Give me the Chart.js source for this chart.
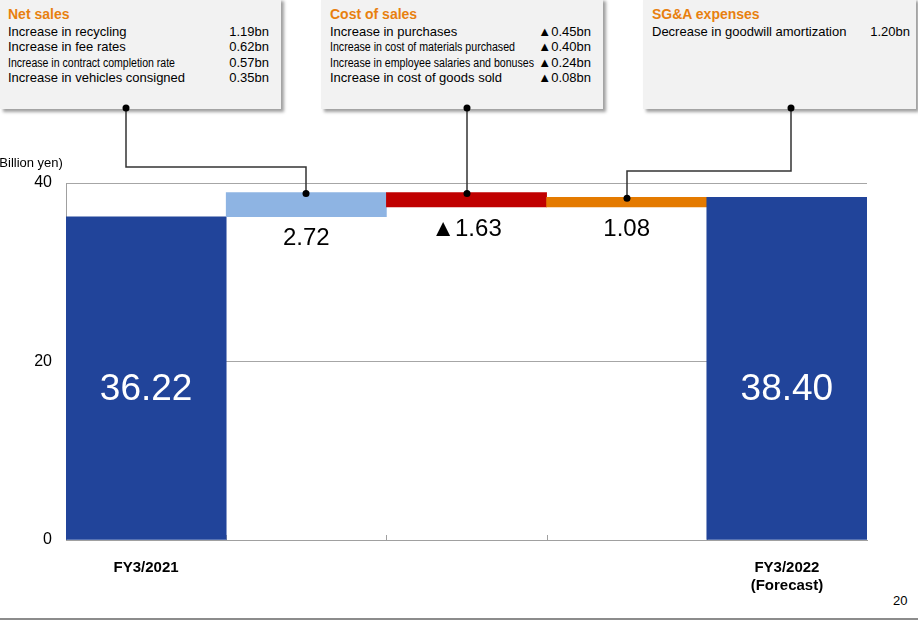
<!DOCTYPE html>
<html>
<head>
<meta charset="utf-8">
<script src="https://cdn.jsdelivr.net/npm/chart.js@4/dist/chart.umd.min.js"></script>
<style>
  html, body { margin:0; padding:0; background:#fff; }
  body { width:918px; height:621px; position:relative; overflow:hidden; font-family:"Liberation Sans", Arial, sans-serif; }
  #wrap { position:absolute; left:0; top:0; width:918px; height:621px; z-index:2; }
  #boxes { position:absolute; left:0; top:0; z-index:1; }
  .box { position:absolute; top:-2px; height:111px; background:#f2f2f2; box-shadow:3px 3px 3px #a0a0a0; }
  .ttl { position:absolute; top:8px; font-size:14px; font-weight:bold; color:#E8800F; line-height:16px; white-space:nowrap; }
  .row { position:absolute; font-size:13px; line-height:15.5px; color:#000; white-space:nowrap; }
  .val { position:absolute; font-size:13px; line-height:15.5px; color:#000; white-space:nowrap; text-align:right; }
  .cond { display:inline-block; font-size:12.5px; transform-origin:0 50%; }
  #pg { position:absolute; left:893px; top:593px; font-size:13px; color:#000; }
  #bl { position:absolute; left:0; top:618px; width:918px; height:2px; background:#8c8c8c; }
</style>
</head>
<body>
<div id="boxes"></div>
<div id="wrap"><canvas id="c" width="918" height="621"></canvas></div>
<div id="pg">20</div>
<div id="bl"></div>
<script>
// ---- data ----
const categories = [['FY3/2021'], '', '', '', ['FY3/2022', '(Forecast)']];
const startValue = 36.22;
const deltaValues = [2.72, -1.63, 1.08];
const endValue = 38.40;
const barLabels = ['36.22', '2.72', '▲1.63', '1.08', '38.40'];
const barColors = ['#21449A', '#8EB4E3', '#C00000', '#E47A00', '#21449A'];
const yTicks = [0, 20, 40];

const netSalesItems = ['Increase in recycling', 'Increase in fee rates', 'Increase in contract completion rate', 'Increase in vehicles consigned'];
const netSalesValues = ['1.19bn', '0.62bn', '0.57bn', '0.35bn'];
const costItems = ['Increase in purchases', 'Increase in cost of materials purchased', 'Increase in employee salaries and bonuses', 'Increase in cost of goods sold'];
const costValues = ['▲0.45bn', '▲0.40bn', '▲0.24bn', '▲0.08bn'];
const sgaItems = ['Decrease in goodwill amortization'];
const sgaValues = ['1.20bn'];

// floating bars from cumulative values
const floating = [[0, startValue]];
let run = startValue;
deltaValues.forEach(d => { floating.push([run, run + d]); run += d; });
floating.push([0, endValue]);

// ---- annotation boxes (HTML text) ----
const boxDefs = [
  { left:0, width:281, tx:8, vr:12, title:'Net sales', items:netSalesItems, vals:netSalesValues, cond:{2:167} },
  { left:321, width:282, tx:9, vr:12, title:'Cost of sales', items:costItems, vals:costValues, cond:{1:185, 2:204} },
  { left:643, width:273, tx:9, vr:6, title:'SG&A expenses', items:sgaItems, vals:sgaValues, cond:{} }
];
const boxesEl = document.getElementById('boxes');
boxDefs.forEach(b => {
  const d = document.createElement('div');
  d.className = 'box';
  d.style.left = b.left + 'px';
  d.style.width = b.width + 'px';
  const t = document.createElement('div');
  t.className = 'ttl'; t.style.left = b.tx + 'px'; t.textContent = b.title;
  d.appendChild(t);
  b.items.forEach((it, i) => {
    const r = document.createElement('div');
    r.className = 'row'; r.style.left = b.tx + 'px'; r.style.top = (25.5 + i * 15.5) + 'px';
    if (b.cond[i]) {
      const s = document.createElement('span'); s.className = 'cond'; s.textContent = it; s.dataset.w = b.cond[i];
      r.appendChild(s);
    } else r.textContent = it;
    d.appendChild(r);
    const v = document.createElement('div');
    v.className = 'val'; v.style.right = b.vr + 'px'; v.style.top = (25.5 + i * 15.5) + 'px';
    v.textContent = b.vals[i];
    d.appendChild(v);
  });
  boxesEl.appendChild(d);
});
document.querySelectorAll('.cond').forEach(s => {
  const w = s.getBoundingClientRect().width;
  s.style.transform = 'scaleX(' + (s.dataset.w / w) + ')';
});

// ---- connectors (box anchor -> bar top) ----
const connectors = [
  { bar:1, ax:126, ay:108, hy:167 },
  { bar:2, ax:null, ay:108, hy:null },
  { bar:3, ax:791, ay:108, hy:171 }
];

const F = '"Liberation Sans", Arial, sans-serif';

const drawPlugin = {
  id: 'extras',
  beforeDatasetsDraw(chart) {
    const ctx = chart.ctx, x = chart.scales.x, a = chart.chartArea;
    ctx.save();
    ctx.strokeStyle = '#a0a0a0'; ctx.lineWidth = 1;
    for (let i = 1; i < categories.length; i++) {
      const bx = Math.round((x.getPixelForValue(i - 1) + x.getPixelForValue(i)) / 2) + 0.5;
      ctx.beginPath(); ctx.moveTo(bx, a.bottom); ctx.lineTo(bx, a.bottom - 5); ctx.stroke();
    }
    ctx.restore();
  },
  afterDatasetsDraw(chart) {
    const ctx = chart.ctx, x = chart.scales.x, y = chart.scales.y;
    const meta = chart.getDatasetMeta(0);
    ctx.save();
    // value labels
    meta.data.forEach((bar, i) => {
      const cx = x.getPixelForValue(i);
      ctx.textAlign = 'center'; ctx.textBaseline = 'middle';
      if (i === 0 || i === categories.length - 1) {
        ctx.fillStyle = '#fff'; ctx.font = '37px ' + F;
        ctx.fillText(barLabels[i], cx, y.getPixelForValue(16.8));
      } else {
        const lo = Math.min(floating[i][0], floating[i][1]);
        ctx.fillStyle = '#000'; ctx.font = '24px ' + F;
        ctx.fillText(barLabels[i], cx, y.getPixelForValue(lo) + 22);
      }
    });
    // y title
    ctx.textAlign = 'left'; ctx.textBaseline = 'middle';
    ctx.fillStyle = '#000'; ctx.font = '13px ' + F;
    ctx.fillText('(Billion yen)', -5, 163);
    // connectors
    ctx.strokeStyle = '#333'; ctx.lineWidth = 1.5; ctx.fillStyle = '#000';
    connectors.forEach(c => {
      const bx = Math.round(x.getPixelForValue(c.bar));
      const ax = c.ax === null ? bx : c.ax;
      const top = y.getPixelForValue(Math.max(floating[c.bar][0], floating[c.bar][1])) + 1;
      ctx.beginPath();
      ctx.moveTo(ax, c.ay);
      if (c.hy !== null) { ctx.lineTo(ax, c.hy); ctx.lineTo(bx, c.hy); }
      ctx.lineTo(bx, top);
      ctx.stroke();
      [[ax, c.ay], [bx, top]].forEach(p => { ctx.beginPath(); ctx.arc(p[0], p[1], 3.5, 0, Math.PI * 2); ctx.fill(); });
    });
    ctx.restore();
  }
};

new Chart(document.getElementById('c'), {
  type: 'bar',
  data: {
    labels: categories,
    datasets: [{ data: floating, backgroundColor: barColors, borderWidth: 0, barPercentage: 1, categoryPercentage: 1 }]
  },
  options: {
    responsive: false, animation: false,
    layout: { padding: { left: 0, top: 183, right: 51, bottom: 0 } },
    plugins: { legend: { display: false }, tooltip: { enabled: false } },
    scales: {
      x: {
        grid: { display: false, drawTicks: false },
        border: { display: true, color: '#a0a0a0', width: 1 },
        ticks: { color: '#000', font: { family: F, size: 15, weight: 'bold' }, padding: 19, maxRotation: 0, autoSkip: false, lineHeight: 1.2 },
        afterFit: s => { s.height = 81; }
      },
      y: {
        min: 0, max: 40,
        afterBuildTicks: s => { s.ticks = yTicks.map(v => ({ value: v })); },
        grid: { color: '#a6a6a6', drawTicks: false, lineWidth: 1 },
        border: { display: true, color: '#a0a0a0', width: 1 },
        ticks: { color: '#000', font: { family: F, size: 16 }, padding: 14 },
        afterFit: s => { s.width = 66; }
      }
    }
  },
  plugins: [drawPlugin]
});
</script>
</body>
</html>
